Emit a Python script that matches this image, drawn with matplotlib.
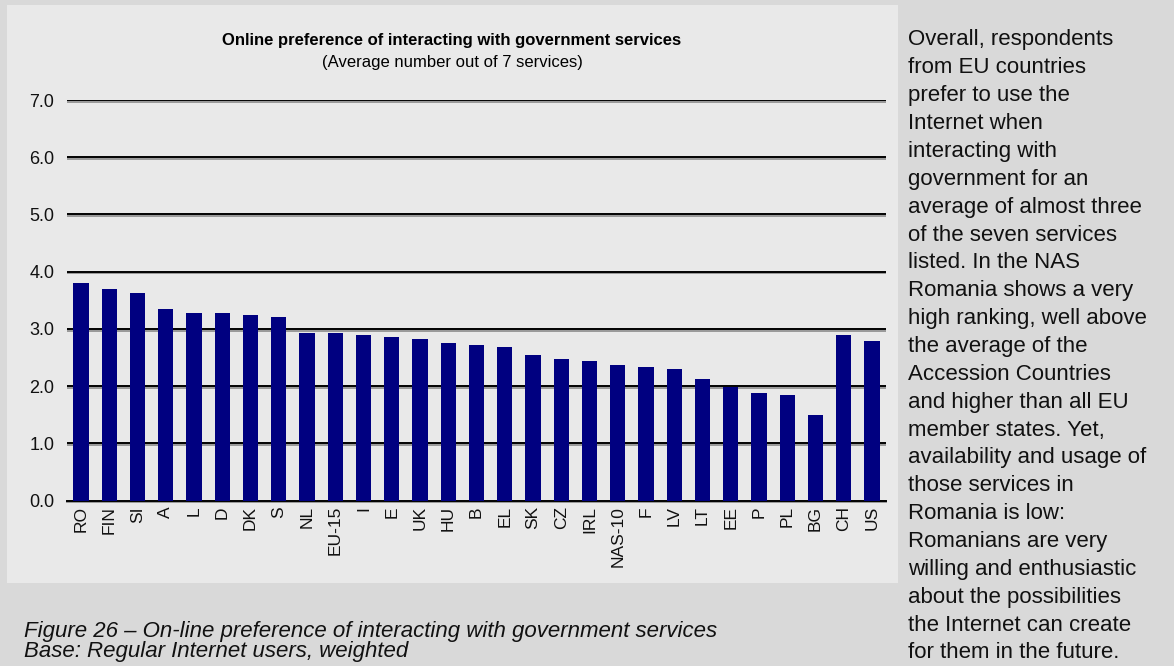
import matplotlib.pyplot as plt
from matplotlib.patches import Rectangle
import matplotlib.patheffects as pe

plt.rcParams['font.family'] = ['Liberation Sans', 'DejaVu Sans']

countries = ["RO", "FIN", "SI", "A", "L", "D", "DK", "S", "NL", "EU-15",
             "I", "E", "UK", "HU", "B", "EL", "SK", "CZ", "IRL", "NAS-10",
             "F", "LV", "LT", "EE", "P", "PL", "BG", "CH", "US"]
scores = [3.80, 3.70, 3.63, 3.35, 3.28, 3.28, 3.24, 3.21, 2.93, 2.93,
          2.89, 2.86, 2.82, 2.75, 2.72, 2.68, 2.54, 2.47, 2.44, 2.37,
          2.33, 2.30, 2.12, 1.98, 1.88, 1.84, 1.49, 2.89, 2.79]
yticks = [0, 1, 2, 3, 4, 5, 6, 7]

title = "Online preference of interacting with government services"
subtitle = "(Average number out of 7 services)"
caption = ["Figure 26 \u2013 On-line preference of interacting with government services",
           "Base: Regular Internet users, weighted"]
side_text = ["Overall, respondents", "from EU countries", "prefer to use the",
             "Internet when", "interacting with", "government for an",
             "average of almost three", "of the seven services",
             "listed. In the NAS", "Romania shows a very",
             "high ranking, well above", "the average of the",
             "Accession Countries", "and higher than all EU",
             "member states. Yet,", "availability and usage of",
             "those services in", "Romania is low:",
             "Romanians are very", "willing and enthusiastic",
             "about the possibilities", "the Internet can create",
             "for them in the future."]

W, H = 1174, 666
fig = plt.figure(figsize=(W / 100, H / 100), dpi=100)
fig.patch.set_facecolor('#d9d9d9')

# lighter panel behind the chart
fig.patches.append(Rectangle((7 / W, 1 - 583 / H), (898 - 7) / W, (583 - 5) / H,
                             transform=fig.transFigure, facecolor='#e9e9e9',
                             edgecolor='none', zorder=-1))

ax = fig.add_axes([67 / W, 1 - 500.5 / H, (886 - 67) / W, 400.5 / H])
ax.set_zorder(1)
ax.set_facecolor('none')
x = list(range(len(countries)))
ax.bar(x, scores, width=0.54, color='#000080', zorder=3)
ax.set_xlim(-0.5, len(countries) - 0.5)
ax.set_ylim(0, 7)

shadow = [pe.SimpleLineShadow(offset=(0, -1.3), shadow_color='#777777', alpha=0.7), pe.Normal()]
for v in yticks[1:]:
    ax.axhline(v, color='black', lw=1.4, zorder=2, path_effects=shadow)

for side in ['top', 'right', 'left']:
    ax.spines[side].set_visible(False)
ax.spines['bottom'].set_linewidth(1.4)
ax.spines['bottom'].set_path_effects(shadow)

ax.set_yticks(yticks)
ax.set_yticklabels([f"{v:.1f}" for v in yticks], fontsize=13, color='#111111')
ax.set_xticks(x)
ax.set_xticklabels(countries, rotation=90, fontsize=12.5, color='#111111')
ax.tick_params(axis='both', length=0)
ax.tick_params(axis='y', pad=9)
ax.tick_params(axis='x', pad=4)

fig.text(452 / W, 1 - 40 / H, title, ha='center', va='center',
         fontsize=12, fontweight='bold')
fig.text(452 / W, 1 - 62 / H, subtitle, ha='center', va='center', fontsize=12)

for i, line in enumerate(caption):
    fig.text(24 / W, 1 - (631 + 21 * i) / H, line, ha='left', va='center',
             fontsize=16, style='italic', color='#111111')

for i, line in enumerate(side_text):
    fig.text(908 / W, 1 - (40 + 27.86 * i) / H, line, ha='left', va='center',
             fontsize=16, color='#111111')

fig.savefig('out.png', dpi=100, facecolor=fig.get_facecolor())
